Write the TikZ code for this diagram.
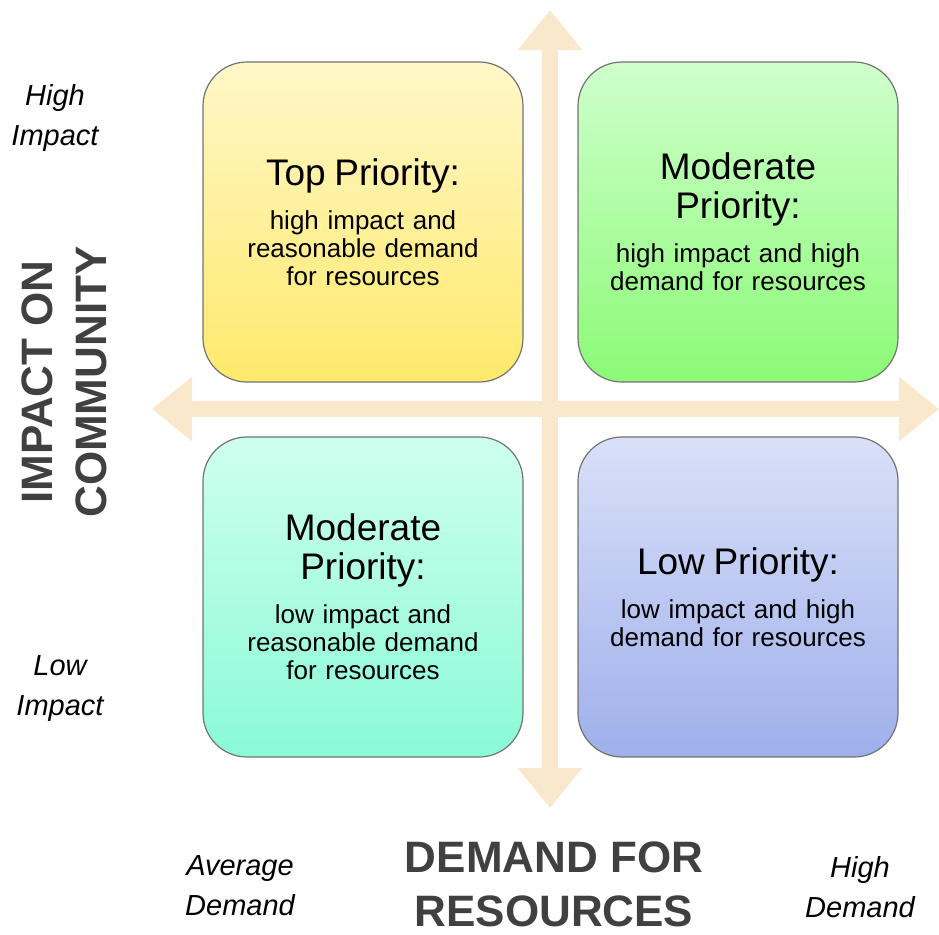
\documentclass[tikz,border=0pt]{standalone}
\usepackage{fontspec}
\setmainfont{Liberation Sans}
\usetikzlibrary{arrows.meta}

\definecolor{axisc}{RGB}{250,232,205}
\definecolor{labelc}{RGB}{64,64,64}
\definecolor{yelTop}{RGB}{255,247,200}
\definecolor{yelBot}{RGB}{255,233,108}
\definecolor{grnTop}{RGB}{206,255,204}
\definecolor{grnBot}{RGB}{140,250,118}
\definecolor{tealTop}{RGB}{206,255,238}
\definecolor{tealBot}{RGB}{138,250,214}
\definecolor{bluTop}{RGB}{218,224,248}
\definecolor{bluBot}{RGB}{158,176,236}

\begin{document}
\begin{tikzpicture}[x=0.5pt, y=-0.5pt, node distance=187.5pt]
  % Define styles
  \tikzstyle{quad} = [rectangle, rounded corners=22pt, draw=black!55, line width=0.6pt, minimum width=160pt, minimum height=160pt, text width=150pt, align=center, inner sep=0pt, font=\fontsize{13}{14}\selectfont]
  \tikzstyle{axis} = [line width=8pt, draw=axisc, {Triangle[length=20pt,width=31pt]}-{Triangle[length=20pt,width=31pt]}]
  \tikzstyle{tag} = [align=center, font=\itshape\fontsize{14.5}{20}\selectfont]
  \tikzstyle{axislabel} = [align=center, inner sep=0pt, text=labelc, font=\bfseries\fontsize{22}{27}\selectfont]

  \useasboundingbox (0,0) rectangle (939,934);

  % Axes
  \coordinate (north) at (550,10);
  \coordinate (south) at (550,808);
  \coordinate (west) at (152,409);
  \coordinate (east) at (939,409);
  \draw[axis] (west) -- (east);
  \draw[axis] (south) -- (north);

  % Quadrants
  \node[quad, top color=yelTop, bottom color=yelBot] (top) at (363,222)
    {{\fontsize{18.5}{19.5}\selectfont Top Priority:\par}\vspace{8pt}
     high impact and\\reasonable demand\\for resources};
  \node[quad, top color=grnTop, bottom color=grnBot, right of=top] (modhigh)
    {{\fontsize{18.5}{19.5}\selectfont Moderate\\Priority:\par}\vspace{8pt}
     high impact and high\\demand for resources};
  \node[quad, top color=tealTop, bottom color=tealBot, below of=top] (modlow)
    {{\fontsize{18.5}{19.5}\selectfont Moderate\\Priority:\par}\vspace{8pt}
     low impact and\\reasonable demand\\for resources};
  \node[quad, top color=bluTop, bottom color=bluBot, right of=modlow] (low)
    {{\fontsize{18.5}{19.5}\selectfont Low Priority:\par}\vspace{8pt}
     low impact and high\\demand for resources};

  % Labels
  \node[tag] (hiimp) at (55,118) {High\\Impact};
  \node[tag] (loimp) at (60,689) {Low\\Impact};
  \node[tag] (avgdem) at (240,886) {Average\\Demand};
  \node[tag] (hidem) at (860,887) {High\\Demand};
  \node[axislabel, rotate=90] (ylab) at (64,382) {IMPACT ON\\COMMUNITY};
  \node[axislabel] (xlab) at (554,884) {DEMAND FOR\\RESOURCES};
\end{tikzpicture}
\end{document}
